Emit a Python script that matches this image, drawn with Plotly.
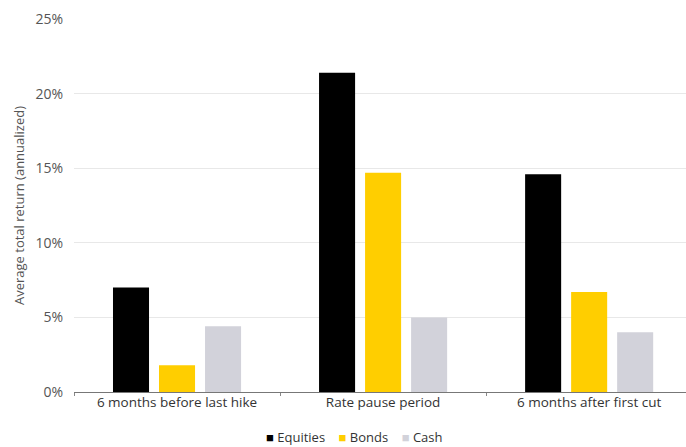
import plotly.graph_objects as go

# Average annualized total return by phase of the rate cycle
periods = ["6 months before last hike", "Rate pause period", "6 months after first cut"]
equities = [7.0, 21.4, 14.6]
bonds = [1.8, 14.7, 6.7]
cash = [4.4, 5.0, 4.0]

series = [
    ("Equities", equities, "#000000"),
    ("Bonds", bonds, "#FFCE00"),
    ("Cash", cash, "#D2D2DA"),
]
y_ticks = [0, 5, 10, 15, 20, 25]

font_family = "Open Sans, Arial, sans-serif"

fig = go.Figure()
for name, vals, color in series:
    fig.add_trace(go.Bar(
        x=periods, y=vals, name=name,
        marker=dict(color=color, line=dict(width=0)),
        showlegend=False,
    ))

# Compact legend row: coloured square followed by series name
legend_html = "&nbsp;&nbsp;&nbsp;&nbsp;".join(
    f'<span style="color:{color}">■</span>&nbsp;{name}' for name, _, color in series
)
fig.add_annotation(
    text=legend_html, xref="paper", yref="paper",
    x=0.458, y=-0.12, xanchor="center", yanchor="middle",
    showarrow=False, font=dict(size=13, color="#333333", family=font_family),
)

fig.update_layout(
    width=686, height=447,
    margin=dict(l=74, r=0, t=19, b=55),
    paper_bgcolor="white", plot_bgcolor="white",
    barmode="group", bargap=0.33, bargroupgap=0.217,
    font=dict(family=font_family, color="#444444"),
)
fig.update_xaxes(
    range=[-0.5, 2.47],
    showgrid=False,
    showline=False,
    ticks="outside", tickson="boundaries", ticklen=3, tickcolor="#888888",
    tickfont=dict(size=13.5, color="#333333"),
)
fig.update_yaxes(
    range=[0, 25],
    tickvals=y_ticks,
    ticktext=[f"{v}%" for v in y_ticks],
    tickfont=dict(size=14, color="#555555"),
    ticklabelstandoff=10,
    showgrid=True, gridcolor="#E8E8E8", gridwidth=1,
    zeroline=True, zerolinecolor="#777777", zerolinewidth=1,
    title=dict(text="Average total return (annualized)",
               font=dict(size=13, color="#555555"), standoff=7),
)

fig.write_html("out.html")
